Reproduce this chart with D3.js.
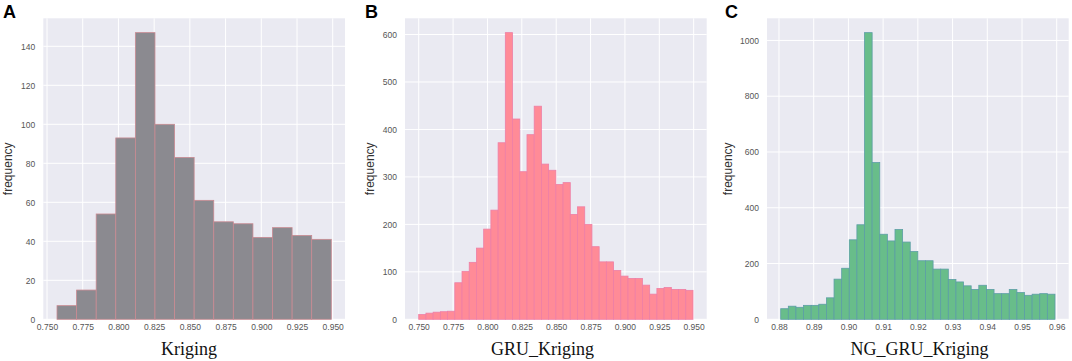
<!DOCTYPE html>
<html>
<head>
<meta charset="utf-8">
<script src="https://cdn.jsdelivr.net/npm/d3@7"></script>
<style>
  html, body { margin: 0; padding: 0; background: #ffffff; }
  svg { display: block; }
</style>
</head>
<body>
<svg id="chart" width="1072" height="361"></svg>
<script>
// ---- Data ----
const countsA = [7, 15, 54, 93, 147, 100, 83, 61, 50, 49, 42, 47, 43, 41];
const rangeA = [0.757, 0.949];
const yTicksA = [0, 20, 40, 60, 80, 100, 120, 140];
const xTicksA = [0.750, 0.775, 0.800, 0.825, 0.850, 0.875, 0.900, 0.925, 0.950];

const countsB = [10, 13, 15, 16, 17, 77, 101, 120, 150, 190, 230, 372, 604, 422, 311, 389, 449, 327, 314,
                 284, 288, 221, 237, 200, 153, 121, 121, 103, 91, 86, 86, 72, 53, 65, 67, 63, 63, 61];
const rangeB = [0.750, 0.9495];
const yTicksB = [0, 100, 200, 300, 400, 500, 600];
const xTicksB = [0.750, 0.775, 0.800, 0.825, 0.850, 0.875, 0.900, 0.925, 0.950];

const countsC = [38, 47, 43, 50, 50, 54, 77, 144, 183, 285, 339, 1028, 562, 305, 281, 322, 277, 243,
                 210, 210, 180, 180, 143, 134, 120, 107, 122, 107, 92, 92, 107, 96, 86, 90, 92, 90];
const rangeC = [0.8805, 0.9595];
const yTicksC = [0, 200, 400, 600, 800, 1000];
const xTicksC = [0.88, 0.89, 0.90, 0.91, 0.92, 0.93, 0.94, 0.95, 0.96];

const panelLetters = ["A", "B", "C"];
const xLabels = ["Kriging", "GRU_Kriging", "NG_GRU_Kriging"];
const yLabel = "frequency";

// ---- Layout / style ----
const panels = [
  { counts: countsA, range: rangeA, yTicks: yTicksA, xTicks: xTicksA, fmt: d3.format(".3f"),
    left: 43.3, right: 345, fill: "#8b8a90", edge: "#c98a92", letterX: 3, ylabX: 12, xlabX: 189 },
  { counts: countsB, range: rangeB, yTicks: yTicksB, xTicks: xTicksB, fmt: d3.format(".3f"),
    left: 405, right: 706.7, fill: "#ff8b97", edge: "#ee7fa6", letterX: 365, ylabX: 374, xlabX: 542.5 },
  { counts: countsC, range: rangeC, yTicks: yTicksC, xTicks: xTicksC, fmt: d3.format(".2f"),
    left: 767, right: 1068.7, fill: "#68bd8a", edge: "#5c9ea6", letterX: 725, ylabX: 732, xlabX: 919.5 }
];
const plotTop = 18.3, plotBottom = 319.3;

const svg = d3.select("#chart");

panels.forEach((p, i) => {
  const n = p.counts.length;
  const w = (p.range[1] - p.range[0]) / n;
  const bins = p.counts.map((c, k) => ({ x0: p.range[0] + k * w, x1: p.range[0] + (k + 1) * w, c }));
  const span = p.range[1] - p.range[0];
  const x = d3.scaleLinear()
    .domain([p.range[0] - 0.05 * span, p.range[1] + 0.05 * span])
    .range([p.left, p.right]);
  const y = d3.scaleLinear()
    .domain([0, d3.max(p.counts) * 1.05])
    .range([plotBottom, plotTop]);

  const g = svg.append("g");
  g.append("rect")
    .attr("x", p.left).attr("y", plotTop)
    .attr("width", p.right - p.left).attr("height", plotBottom - plotTop)
    .attr("fill", "#eaeaf2");

  g.append("g").selectAll("line").data(p.xTicks).join("line")
    .attr("x1", d => x(d)).attr("x2", d => x(d))
    .attr("y1", plotTop).attr("y2", plotBottom)
    .attr("stroke", "#ffffff").attr("stroke-width", 1);
  g.append("g").selectAll("line").data(p.yTicks).join("line")
    .attr("x1", p.left).attr("x2", p.right)
    .attr("y1", d => y(d)).attr("y2", d => y(d))
    .attr("stroke", "#ffffff").attr("stroke-width", 1);

  g.append("g").selectAll("rect").data(bins).join("rect")
    .attr("x", d => x(d.x0))
    .attr("width", d => x(d.x1) - x(d.x0))
    .attr("y", d => y(d.c))
    .attr("height", d => y(0) - y(d.c))
    .attr("fill", p.fill)
    .attr("stroke", p.edge)
    .attr("stroke-width", 0.8);

  const xAxis = d3.axisBottom(x).tickValues(p.xTicks).tickFormat(p.fmt).tickSize(0).tickPadding(5);
  const gx = g.append("g").attr("transform", `translate(0,${plotBottom})`).call(xAxis);
  gx.select(".domain").remove();
  gx.selectAll("text").attr("font-family", "Liberation Sans, Arial, sans-serif")
    .attr("font-size", "8.5px").attr("fill", "#555");

  const yAxis = d3.axisLeft(y).tickValues(p.yTicks).tickFormat(d3.format("d")).tickSize(0).tickPadding(8);
  const gy = g.append("g").attr("transform", `translate(${p.left},0)`).call(yAxis);
  gy.select(".domain").remove();
  gy.selectAll("text").attr("font-family", "Liberation Sans, Arial, sans-serif")
    .attr("font-size", "8.5px").attr("fill", "#555");

  svg.append("text")
    .attr("transform", `translate(${p.ylabX},${(plotTop + plotBottom) / 2}) rotate(-90)`)
    .attr("text-anchor", "middle")
    .attr("font-family", "Liberation Sans, Arial, sans-serif")
    .attr("font-size", "12px").attr("fill", "#333")
    .text(yLabel);

  svg.append("text")
    .attr("x", p.xlabX).attr("y", 355)
    .attr("text-anchor", "middle")
    .attr("font-family", "Liberation Serif, Times New Roman, serif")
    .attr("font-size", "18px").attr("fill", "#111")
    .text(xLabels[i]);

  svg.append("text")
    .attr("x", p.letterX).attr("y", 18)
    .attr("font-family", "Liberation Sans, Arial, sans-serif")
    .attr("font-weight", "bold")
    .attr("font-size", "18px").attr("fill", "#000")
    .text(panelLetters[i]);
});
</script>
</body>
</html>
